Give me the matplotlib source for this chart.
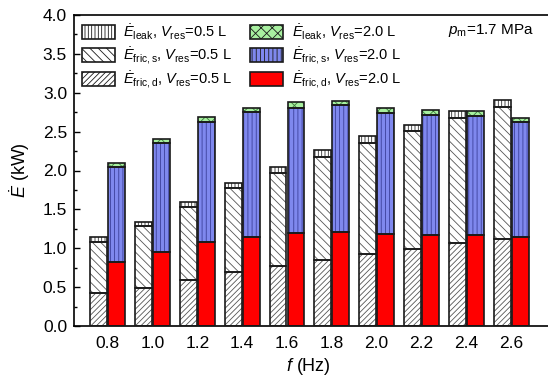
import numpy as np
import matplotlib
matplotlib.use('Agg')
import matplotlib.pyplot as plt
from matplotlib.ticker import MultipleLocator
from matplotlib.patches import Patch

plt.rcParams['font.family'] = ['Liberation Sans', 'DejaVu Sans']
plt.rcParams['mathtext.fontset'] = 'custom'
plt.rcParams['mathtext.rm'] = 'Liberation Sans'
plt.rcParams['mathtext.it'] = 'Liberation Sans:italic'
plt.rcParams['hatch.linewidth'] = 0.6

freq = [0.8, 1.0, 1.2, 1.4, 1.6, 1.8, 2.0, 2.2, 2.4, 2.6]

# V_res = 0.5 L, cumulative tops
fricd_05 = np.array([0.42, 0.49, 0.59, 0.69, 0.77, 0.85, 0.93, 0.99, 1.07, 1.12])
frics_top_05 = np.array([1.08, 1.28, 1.53, 1.77, 1.97, 2.18, 2.36, 2.51, 2.68, 2.82])
leak_top_05 = np.array([1.15, 1.34, 1.60, 1.84, 2.05, 2.26, 2.44, 2.59, 2.77, 2.91])

# V_res = 2.0 L
fricd_20 = np.array([0.82, 0.95, 1.08, 1.14, 1.19, 1.21, 1.18, 1.17, 1.17, 1.14])
frics_top_20 = np.array([2.04, 2.35, 2.63, 2.75, 2.81, 2.84, 2.74, 2.72, 2.70, 2.62])
leak_top_20 = np.array([2.10, 2.41, 2.69, 2.81, 2.88, 2.90, 2.80, 2.78, 2.76, 2.67])

frics_05 = frics_top_05 - fricd_05
leak_05 = leak_top_05 - frics_top_05
frics_20 = frics_top_20 - fricd_20
leak_20 = leak_top_20 - frics_top_20

fig = plt.figure(figsize=(5.48, 3.76), dpi=100)
ax = fig.add_axes([74/548, 50/376, 482/548, 311/376])

x = np.array(freq)
w = 0.075
off = 0.04


def hbar(xs, h, b, fc, hatch, hc):
    ax.bar(xs, h, w, bottom=b, color=fc, edgecolor=hc, hatch=hatch, linewidth=0, zorder=2)
    ax.bar(xs, h, w, bottom=b, fill=False, edgecolor='#1a1a1a', linewidth=1.2, zorder=3)


hbar(x - off, fricd_05, 0, 'white', '//////', '#555555')
hbar(x - off, frics_05, fricd_05, 'white', '\\\\\\\\', '#555555')
hbar(x - off, leak_05, frics_top_05, 'white', '|||||', '#333333')
hbar(x + off, fricd_20, 0, '#ff0000', None, '#ff0000')
hbar(x + off, frics_20, fricd_20, '#7f88ee', '||||', '#3b3f9a')
hbar(x + off, leak_20, frics_top_20, '#a8f0a0', 'xxx', '#3c7a3c')

# legend handles
handles = [
    Patch(facecolor='white', edgecolor='#1a1a1a', hatch='|||||', linewidth=1.2),
    Patch(facecolor='white', edgecolor='#1a1a1a', hatch='\\\\\\\\', linewidth=1.2),
    Patch(facecolor='white', edgecolor='#1a1a1a', hatch='//////', linewidth=1.2),
    Patch(facecolor='#a8f0a0', edgecolor='#1a1a1a', hatch='xxx', linewidth=1.2),
    Patch(facecolor='#7f88ee', edgecolor='#1a1a1a', hatch='||||', linewidth=1.2),
    Patch(facecolor='#ff0000', edgecolor='#1a1a1a', linewidth=1.2),
]
labels = [
    r'$\dot{E}_{\mathrm{leak}}$, $V_{\mathrm{res}}$=0.5 L',
    r'$\dot{E}_{\mathrm{fric,s}}$, $V_{\mathrm{res}}$=0.5 L',
    r'$\dot{E}_{\mathrm{fric,d}}$, $V_{\mathrm{res}}$=0.5 L',
    r'$\dot{E}_{\mathrm{leak}}$, $V_{\mathrm{res}}$=2.0 L',
    r'$\dot{E}_{\mathrm{fric,s}}$, $V_{\mathrm{res}}$=2.0 L',
    r'$\dot{E}_{\mathrm{fric,d}}$, $V_{\mathrm{res}}$=2.0 L',
]
ax.legend(handles, labels, ncol=2, loc='upper left', bbox_to_anchor=(0.0, 1.0),
          frameon=False, fontsize=10.5, handlelength=2.3, handleheight=1.1,
          labelspacing=0.22, columnspacing=1.2, handletextpad=0.55, borderaxespad=0.12)

ax.text(0.955, 0.95, r'$p_{\mathrm{m}}$=1.7 MPa', transform=ax.transAxes,
        ha='right', va='center', fontsize=11)

ax.set_xlim(0.65, 2.8)
ax.set_ylim(0, 4.0)
ax.set_xticks(freq)
ax.set_xticklabels(['%.1f' % f for f in freq])
ax.yaxis.set_major_locator(MultipleLocator(0.5))
ax.yaxis.set_minor_locator(MultipleLocator(0.25))
ax.yaxis.set_major_formatter(matplotlib.ticker.FormatStrFormatter('%.1f'))
ax.tick_params(axis='y', which='major', direction='in', length=4, width=1, labelsize=12.5, pad=5)
ax.tick_params(axis='y', which='minor', direction='in', length=2, width=1)
ax.tick_params(axis='x', length=0, labelsize=12.5, pad=7)
for s in ax.spines.values():
    s.set_linewidth(1.2)

ax.set_xlabel(r'$f$ (Hz)', fontsize=13)
ax.set_ylabel(r'$\dot{E}$ (kW)', fontsize=13)
ax.xaxis.set_label_coords((308 - 74) / 482, -0.097)
ax.yaxis.set_label_coords((32 - 74) / 482, 0.5)

fig.savefig('out.png', dpi=100)
